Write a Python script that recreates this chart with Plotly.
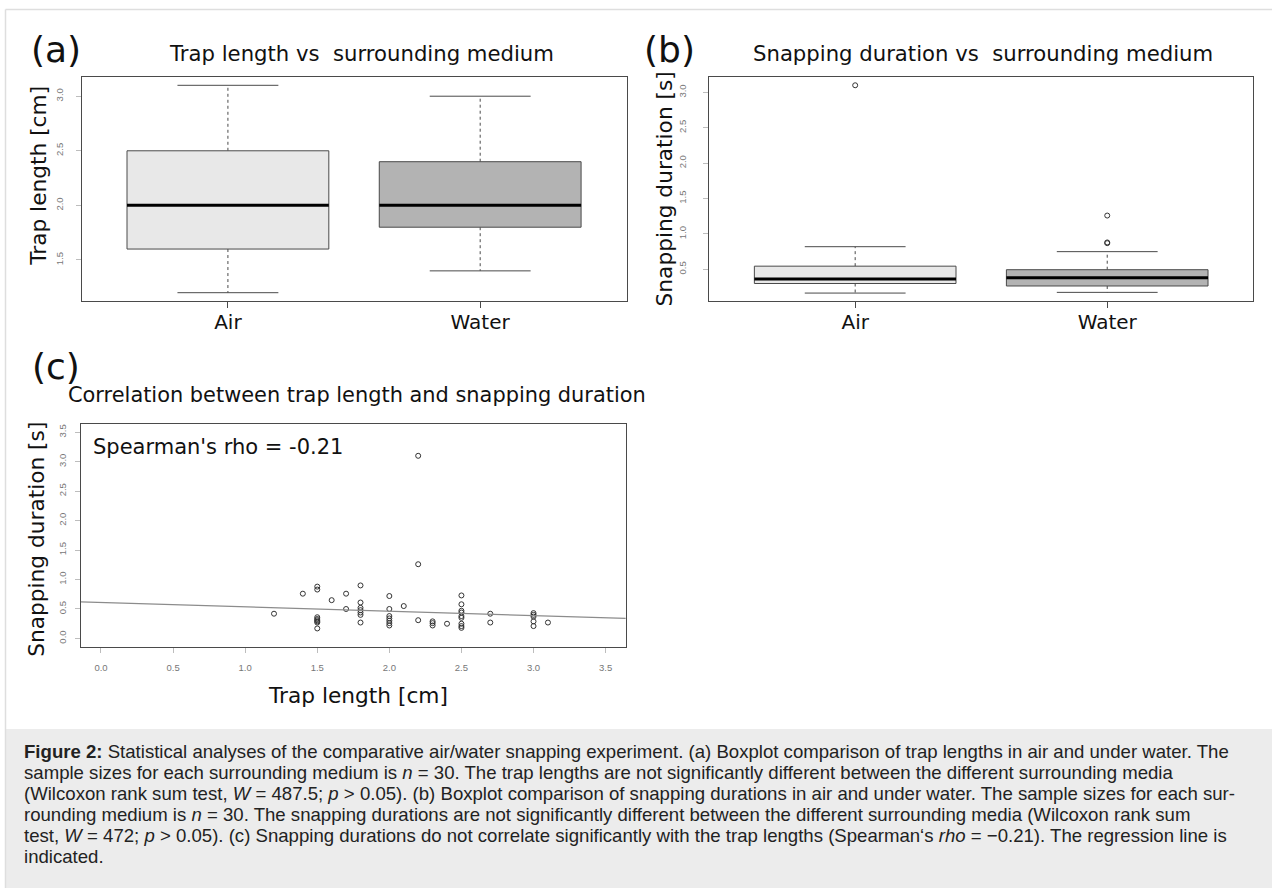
import plotly.graph_objects as go

W, H = 1272, 888

# ---------------- data ----------------
groups = ["Air", "Water"]
group_pos = [1, 2]

# (a) trap length [cm] box statistics
trap_lower = [1.2, 1.4]
trap_q1 = [1.6, 1.8]
trap_median = [2.0, 2.0]
trap_q3 = [2.5, 2.4]
trap_upper = [3.1, 3.0]
trap_outliers = [[], []]

# (b) snapping duration [s] box statistics
snap_lower = [0.165, 0.175]
snap_q1 = [0.30, 0.265]
snap_median = [0.365, 0.38]
snap_q3 = [0.545, 0.495]
snap_upper = [0.82, 0.75]
snap_outliers = [[3.10], [0.87, 0.88, 1.26]]

# (c) trap length vs snapping duration
scatter_trap_length = [
    1.2, 1.4,
    1.5, 1.5, 1.5, 1.5, 1.5, 1.5, 1.5, 1.5,
    1.6, 1.7, 1.7,
    1.8, 1.8, 1.8, 1.8, 1.8, 1.8, 1.8,
    2.0, 2.0, 2.0, 2.0, 2.0, 2.0, 2.0,
    2.1, 2.2, 2.2, 2.2,
    2.3, 2.3, 2.3, 2.4,
    2.5, 2.5, 2.5, 2.5, 2.5, 2.5, 2.5, 2.5, 2.5,
    2.7, 2.7,
    3.0, 3.0, 3.0, 3.0, 3.0, 3.1,
]
scatter_snap_duration = [
    0.42, 0.76,
    0.88, 0.83, 0.36, 0.33, 0.31, 0.29, 0.27, 0.17,
    0.65, 0.76, 0.50,
    0.90, 0.61, 0.52, 0.48, 0.44, 0.40, 0.27,
    0.72, 0.50, 0.38, 0.34, 0.30, 0.26, 0.22,
    0.55, 3.10, 1.26, 0.31,
    0.29, 0.26, 0.22, 0.25,
    0.73, 0.58, 0.47, 0.44, 0.38, 0.35, 0.25, 0.21, 0.18,
    0.42, 0.27,
    0.43, 0.40, 0.37, 0.29, 0.21, 0.27,
]
reg_intercept = 0.61
reg_slope = -0.074
spearman_rho = -0.21

tick_a = [1.5, 2.0, 2.5, 3.0]
tick_b = [0.5, 1.0, 1.5, 2.0, 2.5, 3.0]
tick_c = [0.0, 0.5, 1.0, 1.5, 2.0, 2.5, 3.0, 3.5]

caption_lines = [
    "<b>Figure 2:</b> Statistical analyses of the comparative air/water snapping experiment. (a) Boxplot comparison of trap lengths in air and under water. The",
    "sample sizes for each surrounding medium is <i>n</i> = 30. The trap lengths are not significantly different between the different surrounding media",
    "(Wilcoxon rank sum test, <i>W</i> = 487.5; <i>p</i> &gt; 0.05). (b) Boxplot comparison of snapping durations in air and under water. The sample sizes for each sur-",
    "rounding medium is <i>n</i> = 30. The snapping durations are not significantly different between the different surrounding media (Wilcoxon rank sum",
    "test, <i>W</i> = 472; <i>p</i> &gt; 0.05). (c) Snapping durations do not correlate significantly with the trap lengths (Spearman\u2018s <i>rho</i> = \u22120.21). The regression line is",
    "indicated.",
]

# ---------------- style ----------------
box_fill = ["#e8e8e8", "#b3b3b3"]
EDGE = "#4a4a4a"
PLOT_FONT = "DejaVu Sans"
TICK_FONT = dict(family="Liberation Sans", size=9.5, color="#777777")

RANGE_A = [0.42, 2.58], [1.124, 3.176]
RANGE_B = [0.42, 2.58], [0.053, 3.217]
RANGE_C = [-0.14, 3.64], [-0.14, 3.64]


def px(x):
    return x / W


def py(y):
    return 1 - y / H


fig = go.Figure()


def add_boxes(xa, ya, lo, q1, med, q3, hi, outl):
    hw, cw = 0.4, 0.2
    for i, pos in enumerate(group_pos):
        common = dict(xaxis=xa, yaxis=ya, hoverinfo="skip", showlegend=False)
        # whiskers (dashed)
        fig.add_trace(go.Scatter(
            x=[pos, pos, None, pos, pos], y=[q3[i], hi[i], None, q1[i], lo[i]],
            mode="lines", line=dict(color=EDGE, width=1, dash="3px,3px"), **common))
        # caps
        fig.add_trace(go.Scatter(
            x=[pos - cw, pos + cw, None, pos - cw, pos + cw],
            y=[hi[i], hi[i], None, lo[i], lo[i]],
            mode="lines", line=dict(color=EDGE, width=1), **common))
        # box
        fig.add_trace(go.Scatter(
            x=[pos - hw, pos + hw, pos + hw, pos - hw, pos - hw],
            y=[q1[i], q1[i], q3[i], q3[i], q1[i]],
            mode="lines", fill="toself", fillcolor=box_fill[i],
            line=dict(color=EDGE, width=1), **common))
        # median
        fig.add_trace(go.Scatter(
            x=[pos - hw, pos + hw], y=[med[i], med[i]],
            mode="lines", line=dict(color="#000000", width=3), **common))
        # outliers
        if outl[i]:
            fig.add_trace(go.Scatter(
                x=[pos] * len(outl[i]), y=outl[i], mode="markers",
                marker=dict(symbol="circle-open", size=5, color="#333333",
                            line=dict(width=1)), **common))


add_boxes("x", "y", trap_lower, trap_q1, trap_median, trap_q3, trap_upper, trap_outliers)
add_boxes("x2", "y2", snap_lower, snap_q1, snap_median, snap_q3, snap_upper, snap_outliers)

# (c) scatter + regression line
fig.add_trace(go.Scatter(
    x=scatter_trap_length, y=scatter_snap_duration, mode="markers",
    marker=dict(symbol="circle-open", size=5, color="#333333", line=dict(width=1)),
    xaxis="x3", yaxis="y3", hoverinfo="skip", showlegend=False))
reg_x = list(RANGE_C[0])
reg_y = [reg_intercept + reg_slope * v for v in reg_x]
fig.add_trace(go.Scatter(
    x=reg_x, y=reg_y, mode="lines", line=dict(color="#8c8c8c", width=1.2),
    xaxis="x3", yaxis="y3", hoverinfo="skip", showlegend=False))

frame = dict(showline=True, mirror=True, linecolor=EDGE, linewidth=1,
             showgrid=False, zeroline=False)


def cat_xaxis(domain, anchor, rng):
    return dict(domain=domain, anchor=anchor, range=rng, tickvals=group_pos,
                ticktext=groups, ticks="outside", ticklen=6, tickcolor=EDGE,
                tickfont=dict(family=PLOT_FONT, size=20, color="#111111"),
                ticklabelstandoff=-3, **frame)


def num_yaxis(domain, anchor, rng, tv, standoff):
    return dict(domain=domain, anchor=anchor, range=rng, tickvals=tv,
                tickformat=".1f", tickangle=-90, ticks="outside", ticklen=5,
                tickcolor="#bdbdbd", tickfont=TICK_FONT,
                ticklabelstandoff=standoff, **frame)


dom_top = [py(301), py(77)]
dom_c = [py(646.7), py(424)]

fig.update_layout(
    width=W, height=H, margin=dict(l=0, r=0, t=0, b=0),
    paper_bgcolor="white", plot_bgcolor="white", showlegend=False,
    xaxis=cat_xaxis([px(81.6), px(626.5)], "y", RANGE_A[0]),
    yaxis=num_yaxis(dom_top, "x", RANGE_A[1], tick_a, 9),
    xaxis2=cat_xaxis([px(709), px(1253.4)], "y2", RANGE_B[0]),
    yaxis2=num_yaxis(dom_top, "x2", RANGE_B[1], tick_b, 13),
    xaxis3=dict(domain=[px(80.8), px(625.8)], anchor="y3", range=RANGE_C[0],
                tickvals=tick_c, tickformat=".1f", ticks="outside", ticklen=5,
                tickcolor="#bdbdbd", tickfont=TICK_FONT, ticklabelstandoff=7, **frame),
    yaxis3=num_yaxis(dom_c, "x3", RANGE_C[1], tick_c, 5),
)

# ---------------- frame / caption background ----------------
shapes = [
    dict(type="rect", xref="paper", yref="paper", x0=px(6), x1=1, y0=0, y1=py(729),
         fillcolor="#ececec", line=dict(width=0), layer="below"),
    dict(type="line", xref="paper", yref="paper", x0=px(5.5), x1=1, y0=py(9.5), y1=py(9.5),
         line=dict(color="#dedede", width=1.5)),
    dict(type="line", xref="paper", yref="paper", x0=px(5.5), x1=px(5.5), y0=0, y1=py(9.5),
         line=dict(color="#dedede", width=1.5)),
]
fig.update_layout(shapes=shapes)

ann = []


def text(x, y, s, size, xanchor="center", angle=0, family=PLOT_FONT, color="#111111"):
    ann.append(dict(x=px(x), y=py(y), xref="paper", yref="paper", text=s,
                    showarrow=False, xanchor=xanchor, yanchor="middle",
                    textangle=angle, font=dict(family=family, size=size, color=color)))


# panel letters
text(56, 49, "(a)", 36)
text(669.5, 49, "(b)", 36)
text(55.8, 366, "(c)", 36)
# titles
text(361, 53, "Trap length vs  surrounding medium", 21.2)
text(983, 53, "Snapping duration vs  surrounding medium", 21.2)
text(356.7, 395, "Correlation between trap length and snapping duration", 20.9)
# axis titles
text(38.8, 176, "Trap length [cm]", 21.7, angle=-90)
text(664.4, 189, "Snapping duration [s]", 21.7, angle=-90)
text(35.8, 539, "Snapping duration [s]", 21.7, angle=-90)
text(357.5, 695, "Trap length [cm]", 21.7)
# Spearman
text(90.5, 446.7, "Spearman's rho = %.2f" % spearman_rho, 21, xanchor="left")

# caption
cap_y = [751, 772, 793, 814, 835, 856]
for yy, line in zip(cap_y, caption_lines):
    text(21.7, yy, line, 18.6, xanchor="left", family="Liberation Sans", color="#222222")

fig.update_layout(annotations=ann)

fig.write_html("out.html")
